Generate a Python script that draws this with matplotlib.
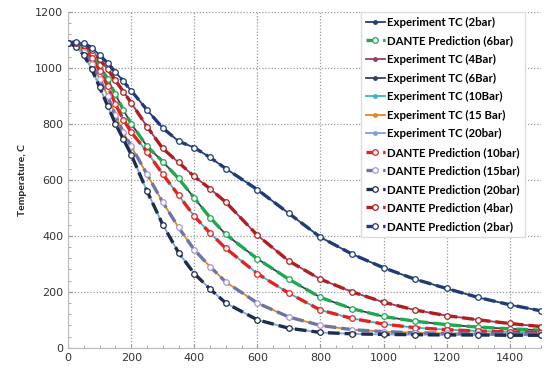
import numpy as np
import matplotlib
matplotlib.use("Agg")
import matplotlib.pyplot as plt
from matplotlib.ticker import MultipleLocator

# time axis (s) shared by every curve
time_s = [0, 25, 50, 75, 100, 125, 150, 175, 200, 250, 300, 350, 400, 450, 500,
          600, 700, 800, 900, 1000, 1100, 1200, 1300, 1400, 1500]

# temperatures (C)
temp_2bar = [1090, 1092, 1087, 1072, 1045, 1017, 985, 952, 918, 850, 785, 738, 715,
             680, 640, 565, 480, 395, 335, 286, 245, 212, 180, 154, 132]
temp_4bar = [1090, 1090, 1082, 1062, 1030, 995, 955, 915, 875, 790, 712, 662, 612,
             568, 520, 402, 310, 245, 200, 163, 135, 115, 100, 87, 76]
temp_6bar = [1090, 1088, 1075, 1048, 1010, 960, 905, 850, 800, 720, 665, 605, 535,
             465, 405, 318, 245, 180, 140, 112, 95, 83, 74, 68, 63]
temp_10bar = [1090, 1085, 1065, 1035, 990, 935, 870, 815, 770, 700, 620, 545, 470,
              410, 355, 265, 195, 135, 105, 85, 72, 65, 60, 57, 55]
temp_15bar = [1090, 1080, 1055, 1015, 960, 900, 830, 770, 720, 620, 520, 430, 350,
              290, 235, 160, 110, 80, 65, 58, 54, 52, 51, 50, 50]
temp_20bar = [1090, 1075, 1045, 995, 930, 865, 800, 745, 690, 560, 440, 340, 265,
              210, 160, 100, 70, 55, 50, 48, 47, 46, 46, 45, 45]

# legend order: (label, values, color, kind)
series = [
    ("Experiment TC (2bar)", temp_2bar, "#233f73", "exp"),
    ("DANTE Prediction (6bar)", temp_6bar, "#1fa84f", "dante"),
    ("Experiment TC (4Bar)", temp_4bar, "#9a3a6a", "exp"),
    ("Experiment TC (6Bar)", temp_6bar, "#3a3f58", "exp"),
    ("Experiment TC (10Bar)", temp_10bar, "#3db3c4", "exp"),
    ("Experiment TC (15 Bar)", temp_15bar, "#e0891c", "exp"),
    ("Experiment TC (20bar)", temp_20bar, "#7ba5dc", "exp"),
    ("DANTE Prediction (10bar)", temp_10bar, "#e42222", "dante"),
    ("DANTE Prediction (15bar)", temp_15bar, "#6e74a8", "dante"),
    ("DANTE Prediction (20bar)", temp_20bar, "#1d2d4d", "dante"),
    ("DANTE Prediction (4bar)", temp_4bar, "#b01e1e", "dante"),
    ("DANTE Prediction (2bar)", temp_2bar, "#1f3c78", "dante"),
]

marker_edges = {"DANTE Prediction (15bar)": "#a996d6"}

fig = plt.figure(figsize=(5.54, 3.81), dpi=100)
ax = fig.add_axes([0.123, 0.087, 0.854, 0.882])

for label, vals, color, kind in series:
    if kind == "exp":
        ax.plot(time_s, vals, color=color, lw=1.3, marker="o", ms=2.5,
                mfc=color, mec=color, label=label, zorder=2)
    else:
        ax.plot(time_s, vals, color=color, lw=2.4, ls=(0, (3.5, 1.5)),
                marker="o", ms=4, mfc="white",
                mec=marker_edges.get(label, color), mew=0.9,
                label=label, zorder=3)

ax.set_xlim(0, 1500)
ax.set_ylim(0, 1200)
ax.xaxis.set_major_locator(MultipleLocator(200))
ax.yaxis.set_major_locator(MultipleLocator(200))
ax.xaxis.set_minor_locator(MultipleLocator(50))
ax.yaxis.set_minor_locator(MultipleLocator(40))
ax.tick_params(which="both", direction="in", colors="#9a9a9a",
               labelcolor="#333333", labelsize=8)
ax.tick_params(which="major", length=3)
ax.tick_params(which="minor", length=2)
ax.grid(True, which="major", ls=(0, (1, 1.5)), color="#999999", lw=0.9)

for side in ["top", "right"]:
    ax.spines[side].set_visible(False)
for side in ["left", "bottom"]:
    ax.spines[side].set_color("#bbbbbb")

ax.set_ylabel("Temperature, C", fontsize=7.5, fontweight="bold",
              family="Lato", color="#222222", labelpad=6)

leg = ax.legend(loc="upper right", bbox_to_anchor=(0.966, 1.0),
                borderaxespad=0, numpoints=1, handlelength=1.7,
                handletextpad=0.2, labelspacing=0.66, borderpad=0.45,
                prop={"family": "Lato", "weight": "bold", "size": 8.2},
                fancybox=False, framealpha=1, edgecolor="#dddddd")
leg.set_zorder(5)

fig.savefig("out.png", dpi=100)
